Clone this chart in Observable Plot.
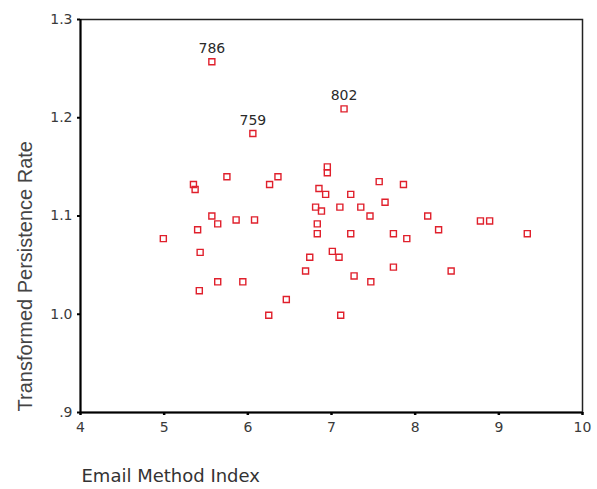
<!DOCTYPE html>
<html>
<head>
<meta charset="utf-8">
<script src="https://cdn.jsdelivr.net/npm/d3@7"></script>
<script src="https://cdn.jsdelivr.net/npm/@observablehq/plot@0.6"></script>
<style>
  body { margin: 0; background: #fff; }
</style>
</head>
<body>
<div id="chart"></div>
<script>
// Email Method Index (x) and Transformed Persistence Rate (y)
const emailIndex = [5.57, 6.06, 7.15, 5.35, 5.37, 5.75, 6.26, 6.36, 5.57, 5.64, 5.40, 5.86, 6.08, 4.99, 5.43, 5.64, 5.94, 5.42, 6.46, 6.25,
  6.95, 6.95, 7.57, 7.86, 6.85, 6.93, 7.23, 7.64, 6.81, 6.88, 7.10, 7.35, 7.46, 8.15, 8.78, 8.89, 6.83, 6.83, 7.23, 7.74,
  8.28, 7.90, 9.34, 7.01, 7.09, 6.74, 6.69, 7.74, 7.27, 7.47, 8.43, 7.11];
const persistence = [1.257, 1.184, 1.209, 1.132, 1.127, 1.140, 1.132, 1.140, 1.100, 1.092, 1.086, 1.096, 1.096, 1.077, 1.063, 1.033, 1.033, 1.024, 1.015, 0.999,
  1.150, 1.144, 1.135, 1.132, 1.128, 1.122, 1.122, 1.114, 1.109, 1.105, 1.109, 1.109, 1.100, 1.100, 1.095, 1.095, 1.092, 1.082, 1.082, 1.082,
  1.086, 1.077, 1.082, 1.064, 1.058, 1.058, 1.044, 1.048, 1.039, 1.033, 1.044, 0.999];
const caseIds = ["786", "759", "802"]; // labels for the first three cases
const xTicks = [4, 5, 6, 7, 8, 9, 10];
const yTicks = [0.9, 1.0, 1.1, 1.2, 1.3];
const xTitle = "Email Method Index";
const yTitle = "Transformed Persistence Rate";

const data = emailIndex.map((x, i) => ({x, y: persistence[i], id: caseIds[i] || ""}));
const labeled = data.filter(d => d.id !== "");

const fmtY = d => { const s = d.toFixed(1); return s.startsWith("0.") ? s.slice(1) : s; };

const chart = Plot.plot({
  width: 597,
  height: 489,
  marginLeft: 80,
  marginRight: 15,
  marginTop: 19,
  marginBottom: 77,
  style: {fontFamily: "'DejaVu Sans', Verdana, sans-serif", fontSize: "14px", color: "#333", background: "#fff"},
  x: {domain: [4, 10]},
  y: {domain: [0.9, 1.3]},
  marks: [
    Plot.frame({stroke: "#222", strokeWidth: 1.5}),
    Plot.axisX({ticks: xTicks, tickFormat: d => String(d), tickSize: 3, tickPadding: 7, strokeWidth: 2.5, stroke: "#000",
      label: null, fontSize: 14, fill: "#3a3a3a"}),
    Plot.axisY({ticks: yTicks, tickFormat: fmtY, tickSize: 3, tickPadding: 5, strokeWidth: 2, stroke: "#000",
      label: null, fontSize: 14, fill: "#3a3a3a"}),
    Plot.ruleX([4], {stroke: "#000", strokeWidth: 2}),
    Plot.ruleY([0.9], {stroke: "#000", strokeWidth: 2}),
    Plot.text([xTitle], {frameAnchor: "bottom-left", text: d => d, textAnchor: "start", lineAnchor: "middle",
      dx: 1, dy: 64, fontSize: 18, fill: "#333"}),
    Plot.text([yTitle], {frameAnchor: "bottom-left", text: d => d, textAnchor: "start", lineAnchor: "middle", rotate: -90,
      dx: -55, dy: -1, fontSize: 20, fontFamily: "'Liberation Sans', Arial, sans-serif", fill: "#444"}),
    Plot.dot(data, {x: "x", y: "y", symbol: "square", r: 3.4, stroke: "#e0202c", strokeWidth: 1.4, fill: "none"}),
    Plot.text(labeled, {x: "x", y: "y", text: "id", dy: -13, fontSize: 14, fill: "#2a2a2a"})
  ]
});
document.getElementById("chart").append(chart);
</script>
</body>
</html>
